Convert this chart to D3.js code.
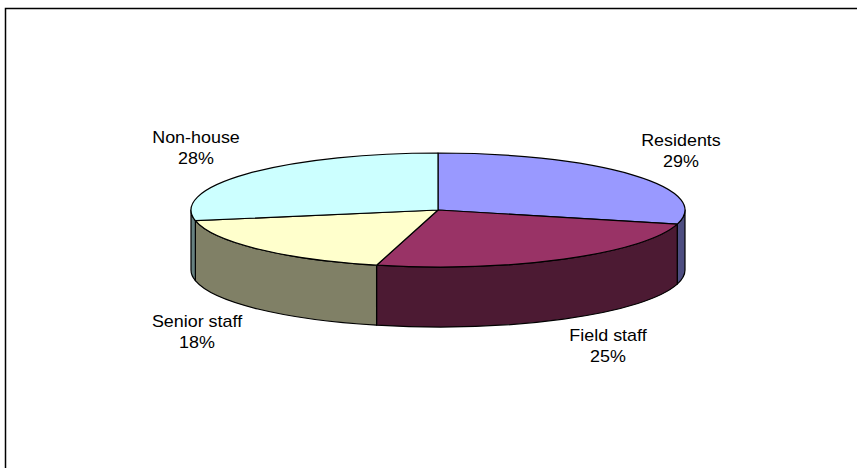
<!DOCTYPE html>
<html>
<head>
<meta charset="utf-8">
<script src="https://cdn.jsdelivr.net/npm/d3@7"></script>
<style>
  html, body { margin: 0; padding: 0; background: #fff; }
  svg { display: block; }
  text { font-family: "Liberation Sans", Arial, sans-serif; font-size: 16px; fill: #000; }
</style>
</head>
<body>
<svg id="chart" width="857" height="468"></svg>
<script>
// Data
const categories = ["Residents", "Field staff", "Senior staff", "Non-house"];
const values = [29, 25, 18, 28];
const labels = ["29%", "25%", "18%", "28%"];
const topColors = ["#9999FF", "#993366", "#FFFFCC", "#CCFFFF"];
const sideColors = ["#4D4D80", "#4C1A33", "#808066", "#668080"];
// label anchor positions (centre x, first baseline y)
const labelPos = [[681, 146], [608, 341], [197, 327], [196, 143]];

const svg = d3.select("#chart");
const W = 857, H = 468;

// frame
svg.append("rect")
  .attr("x", 5.5).attr("y", 8.5)
  .attr("width", 860).attr("height", 470)
  .attr("fill", "#fff").attr("stroke", "#000").attr("stroke-width", 1.5);

const cx = 438, cy = 210, rx = 247, ry = 57, depth = 60;

const pie = d3.pie().sort(null).value(d => d)(values);
// convert d3 angle (from 12 o'clock, clockwise) to screen angle (from 3 o'clock, clockwise w/ y down)
const th = a => a - Math.PI / 2;
const pt = (t, dy = 0) => [cx + rx * Math.cos(t), cy + ry * Math.sin(t) + dy];

const g = svg.append("g");

// sides (front half: theta in [0, PI])
pie.forEach((p, i) => {
  const t0 = th(p.startAngle), t1 = th(p.endAngle);
  const a = Math.max(t0, 0), b = Math.min(t1, Math.PI);
  if (b <= a) return;
  const pa = pt(a), pb = pt(b), pbb = pt(b, depth), pab = pt(a, depth);
  const d = `M${pa[0]},${pa[1]} A${rx},${ry} 0 0 1 ${pb[0]},${pb[1]} L${pbb[0]},${pbb[1]} A${rx},${ry} 0 0 0 ${pab[0]},${pab[1]} Z`;
  g.append("path").attr("d", d)
    .attr("fill", sideColors[i]).attr("stroke", "#000").attr("stroke-width", 1.2)
    .attr("stroke-linejoin", "round");
});

// tops
pie.forEach((p, i) => {
  const t0 = th(p.startAngle), t1 = th(p.endAngle);
  const p0 = pt(t0), p1 = pt(t1);
  const large = (t1 - t0) > Math.PI ? 1 : 0;
  const d = `M${cx},${cy} L${p0[0]},${p0[1]} A${rx},${ry} 0 ${large} 1 ${p1[0]},${p1[1]} Z`;
  g.append("path").attr("d", d)
    .attr("fill", topColors[i]).attr("stroke", "#000").attr("stroke-width", 1.2)
    .attr("stroke-linejoin", "round");
});

// labels
categories.forEach((c, i) => {
  const [x, y] = labelPos[i];
  const t = svg.append("text")
    .attr("transform", `translate(${x},${y}) scale(1.12,1)`)
    .attr("text-anchor", "middle");
  t.append("tspan").attr("x", 0).attr("y", 0).text(c);
  t.append("tspan").attr("x", 0).attr("y", 21).text(labels[i]);
});
</script>
</body>
</html>
